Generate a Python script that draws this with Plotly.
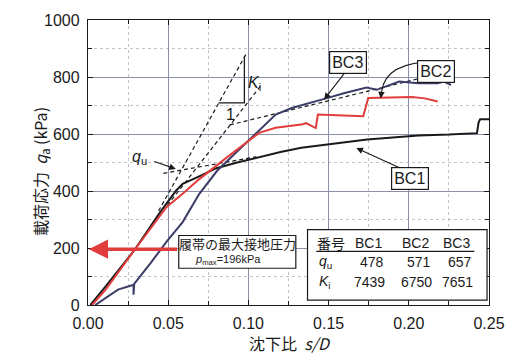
import plotly.graph_objects as go

# ---------------- data ----------------
s_bc1 = [0.0015, 0.011, 0.029, 0.045, 0.055, 0.059, 0.068, 0.080, 0.093, 0.107, 0.120, 0.133, 0.150, 0.174, 0.190, 0.206, 0.225, 0.2425, 0.2435, 0.2445, 0.250]
q_bc1 = [0, 65, 193, 326, 402, 425, 448, 480, 500, 520, 537, 552, 564, 581, 588, 595, 598, 603, 640, 652, 652]

s_bc2 = [0.0025, 0.011, 0.029, 0.049, 0.059, 0.069, 0.0866, 0.0987, 0.107, 0.117, 0.126, 0.133, 0.136, 0.139, 0.142, 0.1433, 0.150, 0.160, 0.1716, 0.1747, 0.182, 0.194, 0.202, 0.210, 0.218]
q_bc2 = [0, 54, 193, 344, 390, 440, 518, 570, 605, 622, 628, 633, 638, 628, 621, 668, 666, 664, 662, 726, 727, 728, 730, 725, 714]

s_bc3 = [0.0045, 0.0187, 0.028, 0.0284, 0.0284, 0.0288, 0.039, 0.049, 0.059, 0.0694, 0.0805, 0.0987, 0.109, 0.117, 0.127, 0.139, 0.149, 0.1595, 0.1737, 0.180, 0.194, 0.206, 0.218, 0.222, 0.2263]
q_bc3 = [0, 54, 70, 71, 36, 74, 147, 222, 291, 390, 471, 570, 628, 668, 691, 709, 726, 743, 763, 755, 784, 778, 778, 784, 772]

# tangent (dashed) guide lines
ki_a_s = [0.044, 0.0985]
ki_a_q = [330, 880]
ki_b_s = [0.0495, 0.1085]
ki_b_q = [350, 775]
qu_a_s = [0.047, 0.105]
qu_a_q = [462, 520]
qu_b_s = [0.0885, 0.225]
qu_b_q = [632, 820]
tri_s = [0.0815, 0.0975, 0.0975]
tri_q = [709, 709, 871]

table_ids = ["BC1", "BC2", "BC3"]
qu_vals = [478, 571, 657]
ki_vals = [7439, 6750, 7651]
p_max = 196

x_ticks = [0.00, 0.05, 0.10, 0.15, 0.20, 0.25]
x_tick_text = ["0.00", "0.05", "0.10", "0.15", "0.20", "0.25"]
y_ticks = [0, 200, 400, 600, 800, 1000]
y_tick_text = ["0", "200", "400", "600", "800", "1000"]

# ---------------- layout helpers ----------------
L, R, T, B = 88, 499, 18, 305
def px2x(px):
    return (px - L) / (R - L)
def py2y(py):
    return (B - py) / (B - T)
def dx(px):
    return (px - L) / (R - L) * 0.25
def dy(py):
    return (B - py) / (B - T) * 1000

FONT = "Liberation Sans, Arial, sans-serif"
JFONT = "Noto Sans CJK JP, sans-serif"
BLACK = "#1a1a1a"
RED = "#e03c3c"
NAVY = "#3b3d68"

fig = go.Figure()

def dashed(xs, ys):
    fig.add_trace(go.Scatter(x=xs, y=ys, mode="lines",
                             line=dict(color=BLACK, width=1.2, dash="4px,3px"),
                             showlegend=False, hoverinfo="skip"))

dashed(ki_a_s, ki_a_q)
dashed(ki_b_s, ki_b_q)
dashed(qu_a_s, qu_a_q)
dashed(qu_b_s, qu_b_q)
fig.add_trace(go.Scatter(x=tri_s, y=tri_q, mode="lines",
                         line=dict(color=BLACK, width=1.3),
                         showlegend=False, hoverinfo="skip"))

fig.add_trace(go.Scatter(x=s_bc1, y=q_bc1, mode="lines", name="BC1",
                         line=dict(color=BLACK, width=2), showlegend=False))
fig.add_trace(go.Scatter(x=s_bc3, y=q_bc3, mode="lines", name="BC3",
                         line=dict(color=NAVY, width=2), showlegend=False))
fig.add_trace(go.Scatter(x=s_bc2, y=q_bc2, mode="lines", name="BC2",
                         line=dict(color=RED, width=2), showlegend=False))

shapes = []
# BC2 curved leader
shapes.append(dict(type="path", xref="x", yref="y",
                   path=f"M {dx(445)},{dy(60)} Q {dx(393)},{dy(60)} {dx(389)},{dy(90)}",
                   line=dict(color=BLACK, width=1.2)))
# p_max box
shapes.append(dict(type="rect", xref="paper", yref="paper",
                   x0=px2x(181), x1=px2x(301), y0=py2y(268), y1=py2y(235),
                   line=dict(color=BLACK, width=1.2), fillcolor="white", layer="above"))
# table box
shapes.append(dict(type="rect", xref="paper", yref="paper",
                   x0=px2x(313), x1=px2x(497), y0=py2y(300), y1=py2y(229),
                   line=dict(color=BLACK, width=1.2), fillcolor="white", layer="above"))
shapes.append(dict(type="line", xref="paper", yref="paper",
                   x0=px2x(322), x1=px2x(484), y0=py2y(251), y1=py2y(251),
                   line=dict(color=BLACK, width=1.2), layer="above"))

ann = []
def label_box(text, cx, cy):
    ann.append(dict(text=text, x=px2x(cx), y=py2y(cy), xref="paper", yref="paper",
                    showarrow=False, font=dict(family=FONT, size=16, color=BLACK),
                    bordercolor=BLACK, borderwidth=1.2, borderpad=2, bgcolor="white"))
def arrow(tipx, tipy, tailx, taily, color=BLACK, width=1.1, head=2, size=1.2):
    ann.append(dict(text="", x=dx(tipx), y=dy(tipy), xref="x", yref="y",
                    ax=tailx - tipx, ay=taily - tipy, showarrow=True,
                    arrowhead=head, arrowsize=size, arrowwidth=width, arrowcolor=color))

arrow(330, 98, 358, 62)
arrow(363, 147, 418, 172)
arrow(388, 97, 389, 88)
arrow(178, 168, 155, 160)
label_box("BC3", 373.5, 49.5)
label_box("BC2", 464, 58)
label_box("BC1", 437.5, 178)

# red arrow for p_max
ann.append(dict(text="", x=0.0005, y=p_max, xref="x", yref="y",
                ax=dx(181), ay=p_max, axref="x", ayref="y", showarrow=True,
                arrowhead=2, arrowsize=1.1, arrowwidth=3.5, arrowcolor=RED))

def txt(text, px, py, size=14, family=FONT, xanchor="center", color=BLACK):
    ann.append(dict(text=text, x=px2x(px), y=py2y(py), xref="paper", yref="paper",
                    showarrow=False, xanchor=xanchor, yanchor="middle",
                    font=dict(family=family, size=size, color=color)))

txt("<i>q</i><sub>u</sub>", 141, 156, size=16)
txt("<i>K</i><sub>i</sub>", 259, 82, size=16)
txt("1", 234, 113, size=16)

txt("履帯の最大接地圧力", 241, 243, size=13, family=JFONT)
txt(f"<i>p</i><sub>max</sub>=" + str(p_max) + "kPa", 196, 260, size=11, xanchor="left")

# table
txt("番号", 337, 243, size=14, family=JFONT)
cols = [376, 424, 466]
for cx, name in zip(cols, table_ids):
    txt(name, cx, 243, size=14)
txt("<i>q</i><sub>u</sub>", 331, 262, size=14)
txt("<i>K</i><sub>i</sub>", 331, 282, size=14)
for cx, v in zip(cols, qu_vals):
    txt(str(v), cx + 3, 262, size=14)
for cx, v in zip(cols, ki_vals):
    txt(str(v), cx + 1, 282, size=14)

# axis titles
txt("沈下比  <i>s/D</i>", 295, 343, size=16, family=JFONT)
ann.append(dict(text="載荷応力  <i>q</i><sub>a</sub> (kPa)", x=px2x(25), y=py2y(171),
                xref="paper", yref="paper", showarrow=False, textangle=-90,
                font=dict(family=JFONT, size=16, color=BLACK)))

axis_common = dict(showline=True, linecolor=BLACK, linewidth=1.3, mirror="allticks",
                   ticks="inside", ticklen=5, tickcolor=BLACK, showgrid=True,
                   gridcolor="#8a90aa", gridwidth=1, zeroline=False,
                   tickfont=dict(family=FONT, size=16, color=BLACK))

fig.update_layout(
    width=517, height=354,
    margin=dict(l=L, r=517 - R, t=T, b=354 - B),
    paper_bgcolor="white", plot_bgcolor="white",
    xaxis=dict(range=[0, 0.25], tickvals=x_ticks, ticktext=x_tick_text,
               minor=dict(dtick=0.025, ticks="inside", ticklen=4, tickcolor=BLACK,
                          showgrid=True, gridcolor="#c2c2c8", griddash="dot"),
               ticklabelstandoff=4, **axis_common),
    yaxis=dict(range=[0, 1000], tickvals=y_ticks, ticktext=y_tick_text,
               minor=dict(dtick=100, ticks="inside", ticklen=4, tickcolor=BLACK,
                          showgrid=True, gridcolor="#c2c2c8", griddash="dot"),
               ticklabelstandoff=4, **axis_common),
    shapes=shapes, annotations=ann, showlegend=False,
)

fig.write_html("out.html", config={"displayModeBar": False},
               post_script="document.body.style.margin='0px';document.body.style.overflow='hidden';")
